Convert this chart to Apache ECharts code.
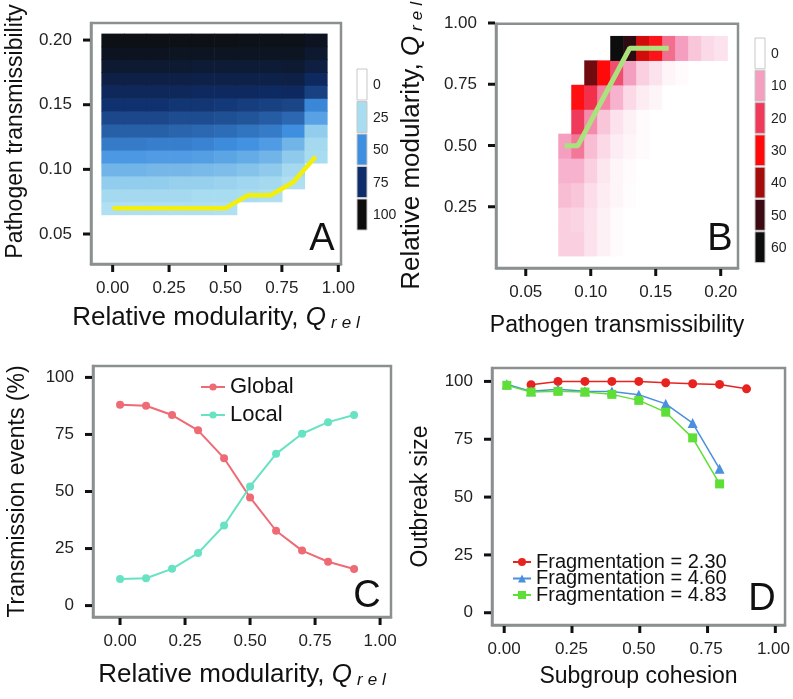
<!DOCTYPE html>
<html>
<head>
<meta charset="utf-8">
<script src="https://cdn.jsdelivr.net/npm/echarts@6/dist/echarts.min.js"></script>
<style>
  html, body { margin: 0; padding: 0; background: #fff; }
  #main { width: 793px; height: 699px; }
</style>
</head>
<body>
<div id="main"></div>
<script>
// ---- data ----
// panel A: columns = relative modularity, rows = pathogen transmissibility
var modA = [0, 0.1, 0.2, 0.3, 0.4, 0.5, 0.6, 0.7, 0.8, 0.9];
var transA = [0.07, 0.08, 0.09, 0.10, 0.11, 0.12, 0.13, 0.14, 0.15, 0.16, 0.17, 0.18, 0.19, 0.20];
var sizeA = [
  [23, 23, 23, 23, 23, 22, null, null, null, null],
  [26, 26, 26, 26, 25, 25, 24, 23, null, null],
  [30, 30, 30, 29, 29, 28, 27, 26, 23, null],
  [38, 38, 37, 37, 36, 35, 33, 31, 26, null],
  [47, 47, 46, 46, 45, 43, 41, 38, 31, 25],
  [55, 55, 54, 54, 53, 51, 49, 46, 38, 26],
  [62, 62, 62, 61, 60, 59, 57, 55, 50, 30],
  [68, 68, 68, 67, 67, 66, 65, 63, 60, 44],
  [74, 74, 74, 73, 73, 72, 71, 70, 69, 52],
  [79, 79, 79, 79, 78, 78, 78, 77, 78, 70],
  [85, 85, 85, 85, 84, 84, 84, 84, 85, 78],
  [90, 90, 90, 90, 89, 89, 89, 89, 90, 86],
  [95, 95, 95, 94, 94, 94, 94, 94, 94, 91],
  [98, 98, 98, 98, 98, 98, 97, 97, 97, 95]
];
var threshA = [0.07, 0.07, 0.07, 0.07, 0.07, 0.07, 0.08, 0.08, 0.09, 0.11];

// panel B: columns = pathogen transmissibility, rows = relative modularity
var transB = [0.08, 0.09, 0.10, 0.11, 0.12, 0.13, 0.14, 0.15, 0.16, 0.17, 0.18, 0.19, 0.20];
var modB = [0.1, 0.2, 0.3, 0.4, 0.5, 0.6, 0.7, 0.8, 0.9];
var valueB = [
  [5, 5, 3, 1.5, 0.5, 0, 0, 0, 0, 0, 0, 0, 0],
  [5, 4.5, 3, 1.5, 0.5, 0, 0, 0, 0, 0, 0, 0, 0],
  [7, 6, 3.5, 2, 1, 0.3, 0, 0, 0, 0, 0, 0, 0],
  [8, 8, 5, 2.5, 1, 0.5, 0, 0, 0, 0, 0, 0, 0],
  [10, 14, 7, 4, 2, 1, 0.5, 0, 0, 0, 0, 0, 0],
  [null, 20, 12, 6, 3, 1.5, 0.5, 0, 0, 0, 0, 0, 0],
  [null, 29, 22, 13, 8, 4, 2, 1, 0, 0, 0, 0, 0],
  [null, null, 45, 30, 18, 10, 5, 3, 1, 0.5, 0, 0, 0],
  [null, null, null, null, 60, 53, 35, 28, 15, 10, 6, 4, 3]
];
var peakTransB = [0.08, 0.09, 0.10, 0.11, 0.12, 0.13, 0.14, 0.15, 0.16];
var peakModB = [0.5, 0.5, 0.6, 0.7, 0.8, 0.9, 0.9, 0.9, 0.9];

// panel C
var modC = [0, 0.1, 0.2, 0.3, 0.4, 0.5, 0.6, 0.7, 0.8, 0.9];
var globalC = [88, 87.6, 83.5, 76.8, 64.6, 47.4, 32.8, 24.1, 19.2, 16.0];
var localC = [11.7, 12.0, 16.1, 23.0, 35.1, 52.2, 66.5, 75.3, 80.4, 83.5];

// panel D
var cohesionD = [0.01, 0.1, 0.2, 0.3, 0.4, 0.5, 0.6, 0.7, 0.8, 0.9];
var frag230 = [null, 98.6, 100, 100, 100, 100, 99.4, 99.0, 98.7, 96.8];
var frag460 = [98.8, 95.7, 96.6, 95.8, 95.6, 94.2, 90.3, 82.0, 62.2, null];
var frag483 = [98.3, 95.4, 95.7, 95.4, 94.4, 91.8, 86.7, 75.6, 55.7, null];

var ticksQ = [0, 0.25, 0.5, 0.75, 1];
var ticksT = [0.05, 0.10, 0.15, 0.20];
var ticksQB = [0.25, 0.5, 0.75, 1];
var ticksPct = [0, 25, 50, 75, 100];

var legendA = [0, 25, 50, 75, 100];
var coloursA = ['#ffffff', '#a8dcf0', '#3f8fe0', '#0e2d6a', '#0d0d0d'];
var legendB = [0, 10, 20, 30, 40, 50, 60];
var coloursB = ['#ffffff', '#f59fc0', '#ef3a5c', '#ff0a0a', '#a40b0b', '#3b0a12', '#0d0d0d'];

// ---- layout ----
var FONT = 'Liberation Sans';
var QREL = 'Relative modularity, {q|Q}{s|r}{s|e}{s|l}';
var FRAME = '#8a9090';

var boxes = [
  { left: 91, top: 23, width: 250, height: 241 },
  { left: 496, top: 23, width: 242, height: 245 },
  { left: 93, top: 366, width: 298, height: 251 },
  { left: 492, top: 368, width: 295, height: 257 }
];
var xRange = [[-0.096, 1.012], [0.0271, 0.2133], [-0.104, 1.042], [-0.045, 1.043]];
var yRange = [[0.0268, 0.2132], [0, 1], [-5, 105], [-5.3, 105.8]];

function cells(xs, ys, grid) {
  var out = [];
  ys.forEach(function (y, i) {
    xs.forEach(function (x, j) {
      if (grid[i][j] != null) out.push([x, y, grid[i][j]]);
    });
  });
  return out;
}

function pairs(xs, ys) {
  return xs.map(function (x, i) { return [x, ys[i]]; }).filter(function (p) { return p[1] != null; });
}

function cellRenderer(halfW, halfH) {
  return function (params, api) {
    var x = api.value(0), y = api.value(1);
    var p0 = api.coord([x - halfW, y + halfH]);
    var p1 = api.coord([x + halfW, y - halfH]);
    return {
      type: 'rect',
      shape: { x: p0[0], y: p0[1], width: p1[0] - p0[0] + 0.6, height: p1[1] - p0[1] + 0.6 },
      style: { fill: api.visual('color') }
    };
  };
}

var titleRich = {
  q: { fontFamily: FONT, fontSize: 26, fontStyle: 'italic', color: '#111' },
  s: { fontFamily: FONT, fontSize: 17, fontStyle: 'italic', color: '#111', padding: [11, 0, 0, 5] }
};

function axis(grid, range, ticks, digits, name, size, gap, isY, pad) {
  return {
    type: 'value', gridIndex: grid, min: range[0], max: range[1],
    name: name, nameLocation: 'middle', nameGap: gap,
    nameRotate: isY ? 90 : 0,
    nameTextStyle: { fontFamily: FONT, fontSize: size, color: '#111', rich: titleRich, padding: pad || 0 },
    axisLine: { show: true, onZero: false, lineStyle: { color: FRAME, width: 2.5 } },
    splitLine: { show: false },
    axisTick: { show: false },
    axisLabel: {
      customValues: ticks, margin: isY ? 19 : 16,
      fontFamily: FONT, fontSize: 17, color: '#222',
      formatter: function (v) { return v.toFixed(digits); }
    }
  };
}

function colourBar(x, y0, step, values, colours) {
  var els = [];
  values.forEach(function (v, i) {
    els.push({
      type: 'rect', z: 100, shape: { x: x, y: y0 + i * step, width: 10, height: step - 1.5 },
      style: { fill: colours[i], stroke: '#c8c8c8', lineWidth: 1 }
    });
    els.push({
      type: 'text', z: 100, x: x + 16, y: y0 + i * step + step / 2,
      style: { text: String(v), fontFamily: FONT, fontSize: 14, fill: '#222', verticalAlign: 'middle' }
    });
  });
  return els;
}

function letter(t, x, y) {
  return {
    type: 'text', x: x, y: y, z: 100,
    style: { text: t, fontFamily: FONT, fontSize: 38, fill: '#111', align: 'center', verticalAlign: 'middle' }
  };
}

// outward tick marks as small filled rects on the bottom / left edge of each panel
function tickMarks(g, xs, ys) {
  var b = boxes[g], xr = xRange[g], yr = yRange[g];
  var els = [];
  var yb = b.top + b.height;
  xs.forEach(function (v) {
    var px = b.left + (v - xr[0]) / (xr[1] - xr[0]) * b.width;
    els.push({ type: 'rect', z: 120, shape: { x: px - 1.5, y: yb + 1, width: 3, height: 7 }, style: { fill: '#111' } });
  });
  ys.forEach(function (v) {
    var py = b.top + (yr[1] - v) / (yr[1] - yr[0]) * b.height;
    els.push({ type: 'rect', z: 120, shape: { x: b.left - 8, y: py - 1.5, width: 7, height: 3 }, style: { fill: '#111' } });
  });
  return els;
}

var gridStyle = { show: true, borderColor: FRAME, borderWidth: 2.5 };

var chart = echarts.init(document.getElementById('main'));
chart.setOption({
  animation: false,
  backgroundColor: '#fff',
  grid: boxes.map(function (b) { return Object.assign({}, b, gridStyle); }),
  xAxis: [
    axis(0, xRange[0], ticksQ, 2, QREL, 26, 40, false),
    axis(1, xRange[1], ticksT, 2, 'Pathogen transmissibility', 23, 46, false),
    axis(2, xRange[2], ticksQ, 2, QREL, 26, 44, false),
    axis(3, xRange[3], ticksQ, 2, 'Subgroup cohesion', 23, 40, false)
  ],
  yAxis: [
    axis(0, yRange[0], ticksT, 2, 'Pathogen transmissibility', 23, 64, true, [0, 0, 0, 24]),
    axis(1, yRange[1], ticksQB, 2, QREL, 26, 70, true),
    axis(2, yRange[2], ticksPct, 0, 'Transmission events (%)', 23, 64, true),
    axis(3, yRange[3], ticksPct, 0, 'Outbreak size', 23, 60, true)
  ],
  visualMap: [
    { show: false, type: 'continuous', seriesIndex: 0, dimension: 2, min: 0, max: 100, inRange: { color: coloursA } },
    { show: false, type: 'continuous', seriesIndex: 2, dimension: 2, min: 0, max: 60, inRange: { color: coloursB } }
  ],
  legend: [
    {
      data: ['Global', 'Local'], orient: 'vertical', left: 195, top: 371, itemGap: 6,
      itemWidth: 24, itemHeight: 9,
      textStyle: { fontFamily: FONT, fontSize: 22, color: '#111' }
    },
    {
      data: ['Fragmentation = 2.30', 'Fragmentation = 4.60', 'Fragmentation = 4.83'],
      orient: 'vertical', left: 507, top: 547, itemGap: -3.5,
      itemWidth: 18, itemHeight: 10,
      textStyle: { fontFamily: FONT, fontSize: 20, color: '#111' }
    }
  ],
  graphic: colourBar(357, 69, 32.5, legendA, coloursA)
    .concat(colourBar(755, 38, 32.3, legendB, coloursB))
    .concat([letter('A', 322, 240), letter('B', 720, 240), letter('C', 367, 597), letter('D', 762, 600)])
    .concat(tickMarks(0, ticksQ, ticksT))
    .concat(tickMarks(1, ticksT, ticksQB))
    .concat(tickMarks(2, ticksQ, ticksPct))
    .concat(tickMarks(3, ticksQ, ticksPct)),
  series: [
    {
      type: 'custom', xAxisIndex: 0, yAxisIndex: 0,
      renderItem: cellRenderer(0.05, 0.005), encode: { x: 0, y: 1 },
      data: cells(modA, transA, sizeA)
    },
    {
      type: 'line', xAxisIndex: 0, yAxisIndex: 0, showSymbol: false, z: 5,
      lineStyle: { color: '#f3ef0c', width: 4.5 },
      data: pairs(modA, threshA)
    },
    {
      type: 'custom', xAxisIndex: 1, yAxisIndex: 1,
      renderItem: cellRenderer(0.005, 0.05), encode: { x: 0, y: 1 },
      data: cells(transB, modB, valueB)
    },
    {
      type: 'line', xAxisIndex: 1, yAxisIndex: 1, showSymbol: false, z: 5,
      lineStyle: { color: '#abe27e', width: 5 },
      data: pairs(peakTransB, peakModB)
    },
    {
      name: 'Global', type: 'line', xAxisIndex: 2, yAxisIndex: 2,
      symbol: 'circle', symbolSize: 8, color: '#ee6a74',
      lineStyle: { width: 2 }, data: pairs(modC, globalC)
    },
    {
      name: 'Local', type: 'line', xAxisIndex: 2, yAxisIndex: 2,
      symbol: 'circle', symbolSize: 8, color: '#67e2c3',
      lineStyle: { width: 2 }, data: pairs(modC, localC)
    },
    {
      name: 'Fragmentation = 2.30', type: 'line', xAxisIndex: 3, yAxisIndex: 3,
      symbol: 'circle', symbolSize: 9, color: '#e8231f',
      lineStyle: { width: 1.5 }, data: pairs(cohesionD, frag230)
    },
    {
      name: 'Fragmentation = 4.60', type: 'line', xAxisIndex: 3, yAxisIndex: 3,
      symbol: 'triangle', symbolSize: 10, color: '#4b8fdf',
      lineStyle: { width: 1.5 }, data: pairs(cohesionD, frag460)
    },
    {
      name: 'Fragmentation = 4.83', type: 'line', xAxisIndex: 3, yAxisIndex: 3,
      symbol: 'rect', symbolSize: 9, color: '#5ddf35',
      lineStyle: { width: 1.5 }, data: pairs(cohesionD, frag483)
    }
  ]
});
</script>
</body>
</html>
